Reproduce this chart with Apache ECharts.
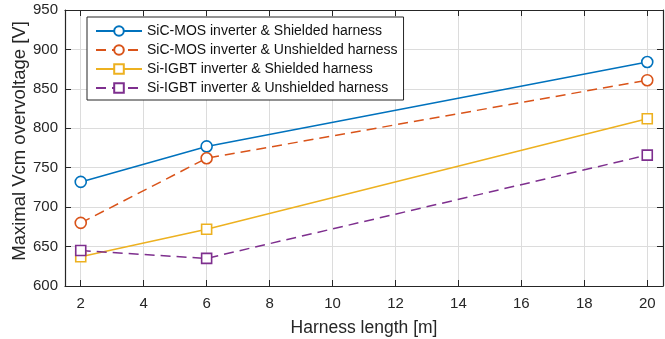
<!DOCTYPE html>
<html>
<head>
<meta charset="utf-8">
<script src="https://cdn.jsdelivr.net/npm/echarts@6/dist/echarts.min.js"></script>
<style>
  html, body { margin: 0; padding: 0; background: #fff; }
  #chart { width: 665px; height: 339px; }
</style>
</head>
<body>
<div id="chart"></div>
<script>
// harness lengths [m]
const lengths = [2, 6, 20];

// maximal Vcm overvoltage [V]
const sicShielded = [732, 777, 884];
const sicUnshielded = [680, 762, 861];
const igbtShielded = [637, 672, 812];
const igbtUnshielded = [645, 635, 766];

const xTicks = [2, 4, 6, 8, 10, 12, 14, 16, 18, 20];

const seriesNames = [
    'SiC-MOS inverter & Shielded harness',
    'SiC-MOS inverter & Unshielded harness',
    'Si-IGBT inverter & Shielded harness',
    'Si-IGBT inverter & Unshielded harness'
];

const font = 'Arial, "Liberation Sans", Helvetica, sans-serif';
const axisColor = '#262626';

function pairs(vals) {
    return lengths.map((x, i) => [x, vals[i]]);
}

function makeSeries(name, vals, color, symbol, dashed) {
    return {
        name: name,
        type: 'line',
        data: pairs(vals),
        symbol: symbol,
        symbolSize: symbol === 'circle' ? 11 : 10,
        showAllSymbol: true,
        lineStyle: { color: color, width: 1.5, type: dashed ? [10, 6] : 'solid' },
        itemStyle: { color: '#fff', borderColor: color, borderWidth: 1.6 },
        emphasis: { disabled: true },
        z: 3
    };
}

const chart = echarts.init(document.getElementById('chart'));

const tickCommon = { show: true, inside: true, length: 6, lineStyle: { color: axisColor } };

chart.setOption({
    animation: false,
    textStyle: { fontFamily: font },
    grid: { left: 65, right: 2, top: 10, bottom: 53, outerBoundsMode: 'none', containLabel: false },
    legend: {
        left: 87,
        top: 17,
        orient: 'vertical',
        itemGap: 5,
        itemWidth: 46,
        itemHeight: 12,
        padding: [7, 6, 5, 8],
        borderColor: axisColor,
        borderWidth: 1,
        backgroundColor: '#fff',
        textStyle: { fontSize: 14, color: '#111', fontFamily: font },
        data: seriesNames
    },
    xAxis: [{
        type: 'value',
        min: 1.5,
        max: 20.5,
        interval: 2,
        name: 'Harness length [m]',
        nameLocation: 'middle',
        nameGap: 33,
        nameTextStyle: { fontSize: 17.5, color: axisColor },
        axisLine: { show: true, onZero: false, lineStyle: { color: axisColor, width: 1.2 } },
        axisTick: Object.assign({ customValues: xTicks }, tickCommon),
        axisLabel: { fontSize: 15, color: axisColor, margin: 10, customValues: xTicks },
        splitLine: { show: true, lineStyle: { color: '#dcdcdc' } }
    }, {
        type: 'value',
        position: 'top',
        min: 1.5,
        max: 20.5,
        axisLine: { show: true, onZero: false, lineStyle: { color: axisColor, width: 1.2 } },
        axisTick: Object.assign({ customValues: xTicks }, tickCommon),
        axisLabel: { show: false },
        splitLine: { show: false }
    }],
    yAxis: [{
        type: 'value',
        min: 600,
        max: 950,
        interval: 50,
        name: 'Maximal Vcm overvoltage [V]',
        nameLocation: 'middle',
        nameGap: 36,
        nameMoveOverlap: false,
        nameTextStyle: { fontSize: 18.5, color: axisColor, padding: [0, 0, 0, 14] },
        axisLine: { show: true, onZero: false, lineStyle: { color: axisColor, width: 1.2 } },
        axisTick: tickCommon,
        axisLabel: { fontSize: 15, color: axisColor, margin: 7 },
        splitLine: { show: true, lineStyle: { color: '#dcdcdc' } }
    }, {
        type: 'value',
        position: 'right',
        min: 600,
        max: 950,
        interval: 50,
        axisLine: { show: true, onZero: false, lineStyle: { color: axisColor, width: 1.2 } },
        axisTick: tickCommon,
        axisLabel: { show: false },
        splitLine: { show: false }
    }],
    series: [
        makeSeries(seriesNames[0], sicShielded, '#0072BD', 'circle', false),
        makeSeries(seriesNames[1], sicUnshielded, '#D95319', 'circle', true),
        makeSeries(seriesNames[2], igbtShielded, '#EDB120', 'rect', false),
        makeSeries(seriesNames[3], igbtUnshielded, '#7E2F8E', 'rect', true)
    ]
});
</script>
</body>
</html>
